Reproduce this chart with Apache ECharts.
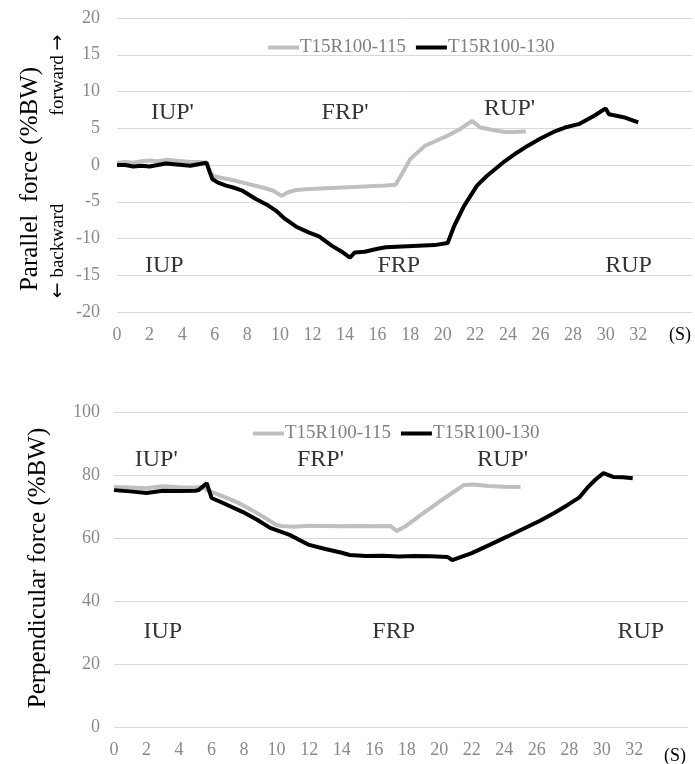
<!DOCTYPE html>
<html>
<head>
<meta charset="utf-8">
<script src="https://cdn.jsdelivr.net/npm/echarts@6/dist/echarts.min.js"></script>
<style>
  html, body { margin: 0; padding: 0; background: #fff; }
  #main { width: 695px; height: 764px; }
</style>
</head>
<body>
<div id="main"></div>
<script>
// series names
var names = ['T15R100-115', 'T15R100-130'];

// parallel force, T15R100-115 (grey)
var parT115 = [0, 0.5, 1, 1.5, 2, 2.5, 3, 3.5, 4, 4.5, 5, 5.5, 5.7, 5.9, 6.3, 7, 8.1, 9, 9.6, 10.1, 10.5, 11, 11.6, 12.5, 13.5, 14.5, 15.5, 16.5, 17.1, 17.5, 18, 18.5, 18.9, 19.5, 20.3, 21, 21.8, 22.3, 23, 23.8, 24.5, 25.1];
var parV115 = [0.3, 0.4, 0.3, 0.5, 0.6, 0.5, 0.7, 0.6, 0.5, 0.4, 0.4, 0.3, -0.8, -1.5, -1.7, -2.0, -2.6, -3.1, -3.5, -4.2, -3.7, -3.4, -3.3, -3.2, -3.1, -3.0, -2.9, -2.8, -2.7, -1.2, 0.8, 1.8, 2.6, 3.2, 4.0, 4.8, 6.0, 5.1, 4.8, 4.5, 4.5, 4.6];

// parallel force, T15R100-130 (black)
var parT130 = [0, 0.5, 1, 1.5, 2, 2.5, 3, 3.5, 4, 4.5, 5, 5.5, 5.7, 5.85, 6.2, 6.7, 7.2, 7.7, 8.5, 9.2, 9.75, 10.3, 11, 11.8, 12.4, 13.2, 13.8, 14.3, 14.6, 15.2, 16, 16.5, 17.5, 18.5, 19.5, 20.3, 20.7, 21.3, 22.1, 22.7, 23.8, 24.5, 25.2, 26, 26.8, 27.5, 28.4, 29.3, 30.0, 30.2, 31.1, 32.0];
var parV130 = [0, 0, -0.2, -0.1, -0.2, 0, 0.2, 0.1, 0, -0.1, 0.1, 0.3, -1.0, -1.9, -2.4, -2.8, -3.1, -3.5, -4.6, -5.4, -6.2, -7.3, -8.4, -9.2, -9.7, -11.0, -11.8, -12.6, -11.9, -11.8, -11.4, -11.2, -11.1, -11.0, -10.9, -10.6, -8.3, -5.6, -2.8, -1.5, 0.5, 1.6, 2.6, 3.6, 4.5, 5.1, 5.6, 6.7, 7.7, 6.9, 6.5, 5.8];

// perpendicular force, T15R100-115 (grey)
var perT115 = [0, 1, 2, 3, 4, 5, 5.4, 5.8, 6.5, 7.2, 7.9, 9, 10, 10.3, 11, 12, 13, 14, 15, 16, 17, 17.4, 18, 19, 20, 21, 21.5, 22.1, 23, 24, 25];
var perV115 = [76.2, 76, 75.8, 76.4, 76.1, 76, 76.2, 75, 73.6, 72.2, 70.5, 67.3, 64.1, 63.8, 63.6, 63.9, 63.8, 63.7, 63.8, 63.7, 63.8, 62.2, 64, 67.8, 71.5, 75, 76.8, 77, 76.5, 76.3, 76.2];

// perpendicular force, T15R100-130 (black)
var perT130 = [0, 1, 2, 3, 4, 5, 5.2, 5.7, 6.0, 6.7, 7.9, 8.8, 9.6, 10.8, 12, 13, 14, 14.5, 15.5, 16.5, 17.5, 18.5, 19.5, 20.5, 20.8, 22, 23.1, 24.2, 25.4, 26.2, 27.1, 27.9, 28.6, 29.1, 29.6, 30.1, 30.7, 31.3, 31.9];
var perV130 = [75.2, 74.8, 74.3, 75, 74.9, 75, 75.2, 77.4, 72.7, 71.1, 68.3, 65.8, 63.2, 61, 57.8, 56.5, 55.3, 54.6, 54.3, 54.4, 54.1, 54.3, 54.2, 54, 53, 55.2, 57.8, 60.5, 63.5, 65.5, 68, 70.5, 72.8, 75.9, 78.5, 80.6, 79.4, 79.3, 79];

// phase labels (data coords)
var phaseNames = ["IUP'", "FRP'", "RUP'", 'IUP', 'FRP', 'RUP'];
var parPhaseT = [3.4, 14.0, 24.1, 2.9, 17.3, 31.4];
var parPhaseV = [7.1, 7.1, 7.6, -13.7, -13.7, -13.7];
var perPhaseT = [2.6, 12.7, 23.9, 3.0, 17.2, 32.4];
var perPhaseV = [84.8, 84.8, 84.8, 30.2, 30.2, 30.2];

var xTicks = { min: 0, max: 35.3, interval: 2, lastLabel: 32 };

var serif = 'Liberation Serif, Times New Roman, serif';
var grey = '#bfbfbf';
var tickColor = '#898989';

function pairs(t, v) {
    var out = [];
    for (var i = 0; i < t.length; i++) out.push([t[i], v[i]]);
    return out;
}
function phasePoints(t, v) {
    var out = [];
    for (var i = 0; i < t.length; i++) out.push({ name: phaseNames[i], value: [t[i], v[i]] });
    return out;
}

function xAxisFor(idx) {
    return {
        type: 'value', gridIndex: idx,
        min: xTicks.min, max: xTicks.max, interval: xTicks.interval,
        axisLine: { show: false }, axisTick: { show: false },
        splitLine: { show: false },
        axisLabel: {
            color: tickColor, fontFamily: serif, fontSize: 18, margin: 14,
            formatter: function (v) { return v > xTicks.lastLabel ? '' : v; }
        }
    };
}
function yAxisFor(idx, min, max, interval, margin) {
    return {
        type: 'value', gridIndex: idx, min: min, max: max, interval: interval,
        axisLine: { show: false }, axisTick: { show: false },
        splitLine: { lineStyle: { color: '#d9d9d9', width: 1 } },
        axisLabel: { color: tickColor, fontFamily: serif, fontSize: 18, margin: margin }
    };
}
function lineSeries(name, idx, data, color) {
    return {
        name: name, type: 'line', xAxisIndex: idx, yAxisIndex: idx,
        data: data, showSymbol: false, symbol: 'none', smooth: false,
        lineStyle: { color: color, width: 4 }, itemStyle: { color: color },
        silent: true, animation: false
    };
}
function phaseSeries(idx, data) {
    return {
        type: 'scatter', xAxisIndex: idx, yAxisIndex: idx, data: data,
        symbolSize: 1, itemStyle: { color: 'rgba(0,0,0,0)' }, silent: true, animation: false,
        label: {
            show: true, position: 'inside', formatter: '{b}',
            color: '#000', fontFamily: serif, fontSize: 24
        }
    };
}
function legendAt(left, top) {
    return {
        data: names, left: left, top: top, icon: 'rect',
        itemWidth: 31, itemHeight: 4, itemGap: 10, selectedMode: false,
        textStyle: { color: '#7f7f7f', fontFamily: serif, fontSize: 19, padding: [0, 0, 0, -4] }
    };
}
function vText(x, y, text, size) {
    return {
        type: 'text', x: x, y: y, rotation: Math.PI / 2,
        style: {
            text: text, fill: '#000', font: size + 'px ' + serif,
            textAlign: 'center', textVerticalAlign: 'middle',
            rich: { arr: { fontFamily: 'DejaVu Sans', fontSize: size, fill: '#000' } }
        }
    };
}
function hText(x, y, text) {
    return {
        type: 'text', x: x, y: y,
        style: { text: text, fill: '#000', font: '18px ' + serif, textAlign: 'center', textVerticalAlign: 'middle' }
    };
}

var myChart = echarts.init(document.getElementById('main'));

var option = {
    backgroundColor: '#fff',
    animation: false,
    grid: [
        { left: 117, top: 18, width: 578, height: 294 },
        { left: 114, top: 412, width: 574, height: 315 }
    ],
    legend: [legendAt(263, 33), legendAt(248, 419)],
    xAxis: [xAxisFor(0), xAxisFor(1)],
    yAxis: [yAxisFor(0, -20, 20, 5, 17), yAxisFor(1, 0, 100, 20, 14)],
    series: [
        lineSeries(names[0], 0, pairs(parT115, parV115), grey),
        lineSeries(names[1], 0, pairs(parT130, parV130), '#000'),
        lineSeries(names[0], 1, pairs(perT115, perV115), grey),
        lineSeries(names[1], 1, pairs(perT130, perV130), '#000'),
        phaseSeries(0, phasePoints(parPhaseT, parPhaseV)),
        phaseSeries(1, phasePoints(perPhaseT, perPhaseV))
    ],
    graphic: [
        vText(30, 179, 'Parallel  force (%BW)', 25),
        vText(58, 75, 'forward {arr|\u2192}', 19),
        vText(58, 251, '{arr|\u2190} backward', 19),
        vText(38, 568, 'Perpendicular force (%BW)', 25),
        hText(680, 335, '(S)'),
        hText(675, 756, '(S)')
    ]
};

myChart.setOption(option);
</script>
</body>
</html>
